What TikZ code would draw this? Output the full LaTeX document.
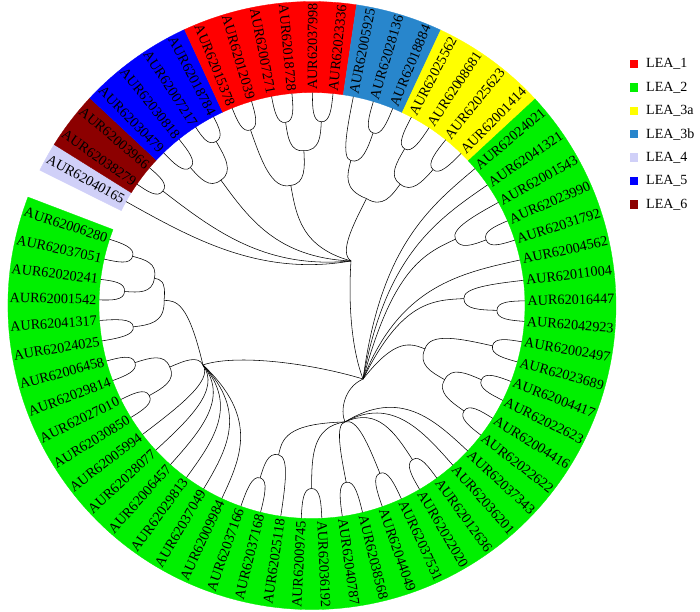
\documentclass[tikz,border=0pt]{standalone}
\usepackage{fontspec}
\setmainfont{Liberation Serif}
\definecolor{leaA}{RGB}{255,0,0}
\definecolor{leaB}{RGB}{0,240,0}
\definecolor{leaC}{RGB}{255,255,0}
\definecolor{leaD}{RGB}{40,134,204}
\definecolor{leaE}{RGB}{208,208,248}
\definecolor{leaF}{RGB}{0,0,255}
\definecolor{leaG}{RGB}{140,0,0}
\tikzset{
  branch/.style={line width=0.55pt, black},
  leaflab/.style={inner sep=0pt, font=\fontsize{14.2}{16}\selectfont},
  legbox/.style={minimum size=8.5pt, inner sep=0pt},
  legtext/.style={anchor=west, inner sep=0pt, font=\fontsize{14}{16}\selectfont},
}
\newcommand\treenode[3]{\coordinate (#1) at (#2:#3);%
  \expandafter\xdef\csname tA@#1\endcsname{#2}%
  \expandafter\xdef\csname tR@#1\endcsname{#3}}
\newcommand\treeedge[2]{%
  \edef\tePR{\csname tR@#1\endcsname}%
  \edef\teCA{\csname tA@#2\endcsname}%
  \edef\teCR{\csname tR@#2\endcsname}%
  \pgfmathsetmacro\teMR{(\tePR+\teCR)/2}%
  \draw[branch] (#1) .. controls (\teCA:\tePR) and (\teCA:\teMR) .. (#2);}
\newcommand\kids[2]{\foreach \cc in {#2}{\treeedge{#1}{\cc}}}
\newcommand\ringseg[3]{\fill[#1, draw=#1, line width=0.3pt] (#2:213) arc[start angle=#2, end angle=#3, radius=213] -- (#3:304) arc[start angle=#3, end angle=#2, radius=304] -- cycle;}
\begin{document}
\begin{tikzpicture}[x=1pt,y=1pt]
\useasboundingbox (-312,-305.5) rectangle (388,305.5);
% ring segments
\ringseg{leaE}{153.569}{148.031}
\ringseg{leaG}{148.031}{136.954}
\ringseg{leaF}{136.954}{114.8}
\ringseg{leaA}{114.8}{81.569}
\ringseg{leaD}{81.569}{64.954}
\ringseg{leaC}{64.954}{42.8}
\ringseg{leaB}{42.8}{-200.893}
% leaves and labels
\foreach \nm [count=\i from 0] in {40165,38279,03966,30479,30818,07217,18784,15378,12039,07271,18728,37998,23336,05925,28136,18884,25562,08681,25623,01414,24021,41321,01543,23990,31792,04562,11004,16447,42923,02497,23689,04417,22623,04416,22622,37343,36201,12636,22020,37531,44049,38568,40787,36192,09745,25118,37168,37166,09984,37049,29813,06457,28077,05994,30850,27010,29814,06458,24025,41317,01542,20241,37051,06280}{
  \pgfmathsetmacro\ang{150.8-5.538462*\i}
  \treenode{l\i}{\ang}{213}
  \pgfmathtruncatemacro\isleft{(\ang>90 || \ang<-90) ? 1 : 0}
  \ifnum\isleft=1
    \pgfmathsetmacro\rot{\ang+180}
    \node[leaflab, anchor=east, rotate=\rot] (t\i) at (\ang:215.5) {AUR620\nm};
  \else
    \node[leaflab, anchor=west, rotate=\ang] (t\i) at (\ang:215.5) {AUR620\nm};
  \fi
}
% hubs
\treenode{A}{48.8}{59.2}
\treenode{B}{-55.2}{89.5}
\treenode{C}{-74.2}{121}
\treenode{D}{208.6}{124.2}
% top clades
\treenode{T1}{142.5}{188}
\treenode{N5a}{131.4}{184}
\treenode{N5b}{120.3}{190}
\treenode{N5}{126}{155}
\treenode{N1a}{109.3}{186}
\treenode{N1b}{98.2}{185}
\treenode{N1c}{87.1}{184}
\treenode{N1bc}{93}{155}
\treenode{N1}{100}{122}
\treenode{N3bi}{70.5}{183}
\treenode{N3b}{75}{150}
\treenode{N3a1}{48.3}{182}
\treenode{N3a2}{59.4}{182}
\treenode{N3a}{54}{150}
\treenode{N3}{63}{120}
% right clades
\treenode{R2}{20.65}{186}
\treenode{R1}{24.8}{158}
\treenode{R3}{-1.5}{185}
\treenode{R4}{2.6}{152}
\treenode{R5}{-12.6}{185}
\treenode{R6}{-23.66}{185}
\treenode{R7}{-34.74}{185}
\treenode{R67}{-29.2}{152}
\treenode{Rm}{-21}{121}
% bottom clades
\treenode{R8}{-56.9}{184}
\treenode{R9}{-67.97}{181}
\treenode{R10}{-79.05}{180}
\treenode{R11}{-90.12}{183}
\treenode{R12}{-106.74}{180}
\treenode{R13}{-102.6}{153}
% left clades
\treenode{L5}{208.95}{186}
\treenode{L4}{197.88}{186}
\treenode{L45}{203.4}{155}
\treenode{L3}{186.8}{180}
\treenode{L2}{175.72}{188}
\treenode{L1}{164.65}{186}
\treenode{L12}{170.2}{160}
\treenode{L123}{178}{148}
% edges
\kids{T1}{l1,l2}
\kids{N5a}{l3,l4}
\kids{N5b}{l5,l6}
\kids{N5}{N5a,N5b}
\kids{N1a}{l7,l8}
\kids{N1b}{l9,l10}
\kids{N1c}{l11,l12}
\kids{N1bc}{N1b,N1c}
\kids{N1}{N1a,N1bc}
\kids{N3bi}{l14,l15}
\kids{N3b}{l13,N3bi}
\kids{N3a1}{l18,l19}
\kids{N3a2}{l16,l17}
\kids{N3a}{N3a2,N3a1}
\kids{N3}{N3b,N3a}
\kids{A}{l0,T1,N5,N1,N3}
\kids{R2}{l23,l24}
\kids{R1}{l22,R2}
\kids{R3}{l27,l28}
\kids{R4}{l26,R3}
\kids{R5}{l29,l30}
\kids{R6}{l31,l32}
\kids{R7}{l33,l34}
\kids{R67}{R6,R7}
\kids{Rm}{R5,R67}
\kids{B}{l20,l21,R1,l25,R4,Rm}
\kids{R8}{l37,l38}
\kids{R9}{l39,l40}
\kids{R10}{l41,l42}
\kids{R11}{l43,l44}
\kids{R12}{l46,l47}
\kids{R13}{l45,R12}
\kids{C}{l35,l36,R8,R9,R10,R11,R13}
\kids{L5}{l54,l55}
\kids{L4}{l56,l57}
\kids{L45}{L4,L5}
\kids{L3}{l58,l59}
\kids{L2}{l60,l61}
\kids{L1}{l62,l63}
\kids{L12}{L1,L2}
\kids{L123}{L12,L3}
\kids{D}{l48,l49,l50,l51,l52,l53,L45,L123}
\draw[branch] (A) .. controls (36,0) and (40,-45) .. (B);
\draw[branch] (B) .. controls (32,-82) and (28,-105) .. (C);
\draw[branch] (D) .. controls (-75,-48) and (0,-58) .. (B);
% legend
\foreach \col/\txt [count=\j from 0] in {leaA/LEA\_1,leaB/LEA\_2,leaC/LEA\_3a,leaD/LEA\_3b,leaE/LEA\_4,leaF/LEA\_5,leaG/LEA\_6}{
  \node[legbox, fill=\col] (sq\j) at (322,{241.5-23.4*\j}) {};
  \node[legtext] (lg\j) at (334,{241.5-23.4*\j}) {\txt};
}
\end{tikzpicture}
\end{document}
